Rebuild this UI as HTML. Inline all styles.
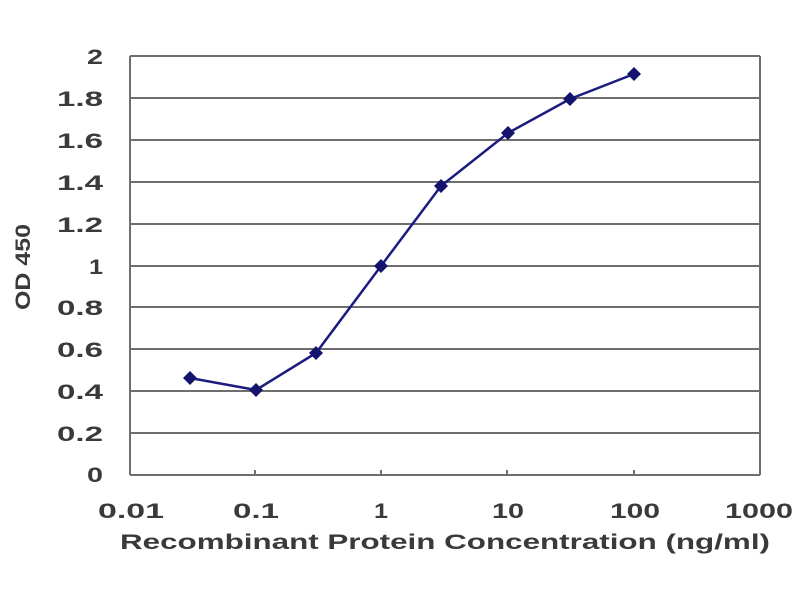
<!DOCTYPE html>
<html><head><style>body{margin:0;background:#fff}svg{display:block}</style></head><body>
<svg width="800" height="600" xmlns="http://www.w3.org/2000/svg" font-family="Liberation Sans, sans-serif">
<g stroke="#6e6e6e" stroke-width="2">
<line x1="130" y1="56" x2="760" y2="56"/>
<line x1="130" y1="98" x2="760" y2="98"/>
<line x1="130" y1="140" x2="760" y2="140"/>
<line x1="130" y1="182" x2="760" y2="182"/>
<line x1="130" y1="224" x2="760" y2="224"/>
<line x1="130" y1="266" x2="760" y2="266"/>
<line x1="130" y1="307" x2="760" y2="307"/>
<line x1="130" y1="349" x2="760" y2="349"/>
<line x1="130" y1="391" x2="760" y2="391"/>
<line x1="130" y1="433" x2="760" y2="433"/>
<line x1="130" y1="475" x2="760" y2="475"/>
<line x1="130" y1="56" x2="130" y2="475"/>
<line x1="760" y1="56" x2="760" y2="475"/>
<line x1="255" y1="475" x2="255" y2="470"/><line x1="381" y1="475" x2="381" y2="470"/><line x1="507" y1="475" x2="507" y2="470"/><line x1="634" y1="475" x2="634" y2="470"/>
</g>
<g fill="#3a3a3a" font-size="21" font-weight="bold" text-anchor="end">
<text x="103" y="64" textLength="16" lengthAdjust="spacingAndGlyphs">2</text><text x="103" y="106" textLength="46" lengthAdjust="spacingAndGlyphs">1.8</text><text x="103" y="148" textLength="46" lengthAdjust="spacingAndGlyphs">1.6</text><text x="103" y="190" textLength="46" lengthAdjust="spacingAndGlyphs">1.4</text><text x="103" y="232" textLength="46" lengthAdjust="spacingAndGlyphs">1.2</text><text x="103" y="274" textLength="14" lengthAdjust="spacingAndGlyphs">1</text><text x="103" y="315" textLength="46" lengthAdjust="spacingAndGlyphs">0.8</text><text x="103" y="357" textLength="46" lengthAdjust="spacingAndGlyphs">0.6</text><text x="103" y="399" textLength="46" lengthAdjust="spacingAndGlyphs">0.4</text><text x="103" y="441" textLength="46" lengthAdjust="spacingAndGlyphs">0.2</text><text x="103" y="482" textLength="16" lengthAdjust="spacingAndGlyphs">0</text>
</g>
<g fill="#3a3a3a" font-size="21" font-weight="bold">
<text x="98" y="518" textLength="66" lengthAdjust="spacingAndGlyphs">0.01</text>
<text x="233" y="518" textLength="46" lengthAdjust="spacingAndGlyphs">0.1</text>
<text x="374" y="518" textLength="14" lengthAdjust="spacingAndGlyphs">1</text>
<text x="492" y="518" textLength="32" lengthAdjust="spacingAndGlyphs">10</text>
<text x="610" y="518" textLength="50" lengthAdjust="spacingAndGlyphs">100</text>
<text x="725" y="518" textLength="68" lengthAdjust="spacingAndGlyphs">1000</text>
<text x="120" y="549" textLength="650" lengthAdjust="spacingAndGlyphs">Recombinant Protein Concentration (ng/ml)</text>
<text transform="translate(30,310) rotate(-90)" textLength="86" lengthAdjust="spacingAndGlyphs">OD 450</text>
</g>
<polyline fill="none" stroke="#1c1c80" stroke-width="2.5" points="190,378 256,390 316,353 381,266 441,186 508,133 570,99 634,74"/>
<g fill="#14146e">
<path d="M190,371l7,7-7,7-7-7z"/><path d="M256,383l7,7-7,7-7-7z"/><path d="M316,346l7,7-7,7-7-7z"/><path d="M381,259l7,7-7,7-7-7z"/><path d="M441,179l7,7-7,7-7-7z"/><path d="M508,126l7,7-7,7-7-7z"/><path d="M570,92l7,7-7,7-7-7z"/><path d="M634,67l7,7-7,7-7-7z"/>
</g>
</svg>
</body></html>
